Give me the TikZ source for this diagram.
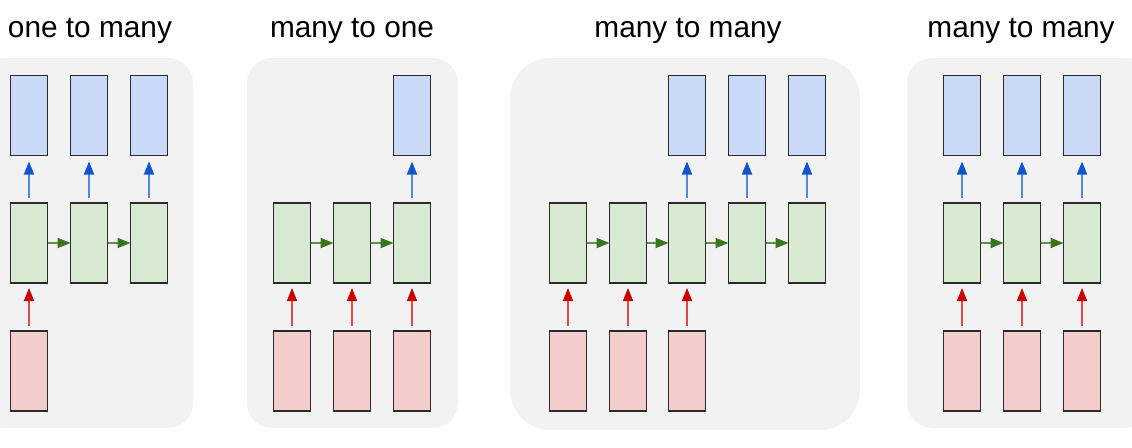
\documentclass[tikz,border=0pt]{standalone}
\usepackage{fontspec}
\setmainfont{Liberation Sans}
\usetikzlibrary{arrows.meta}
\definecolor{bgc}{HTML}{F2F2F2}
\definecolor{boxline}{HTML}{2A2A2A}
\definecolor{outfill}{HTML}{C9DAF8}
\definecolor{hidfill}{HTML}{D9EAD3}
\definecolor{infill}{HTML}{F4CCCC}
\definecolor{barc}{HTML}{1155CC}
\definecolor{garc}{HTML}{38761D}
\definecolor{rarc}{HTML}{CC0000}
\begin{document}
\begin{tikzpicture}[x=1pt,y=-1pt,
  box/.style={draw=boxline,line width=1.9pt,minimum width=37pt,minimum height=80pt,inner sep=0pt,outer sep=0pt,anchor=center},
  outbox/.style={box,fill=outfill},
  hidbox/.style={box,fill=hidfill},
  inbox/.style={box,fill=infill},
  paneltitle/.style={anchor=base,inner sep=0pt,font=\fontsize{29.8}{32}\selectfont,text=black},
  barrow/.style={-{Triangle[length=13pt,width=10pt,color=barc]},line width=1.8pt,draw=barc!70,shorten <=5pt,shorten >=6pt},
  rarrow/.style={-{Triangle[length=13pt,width=10pt,color=rarc]},line width=1.8pt,draw=rarc!70,shorten <=5pt,shorten >=5pt},
  garrow/.style={-{Triangle[length=13pt,width=10pt,color=garc]},line width=1.8pt,draw=garc!80}
]
\useasboundingbox (0,0) rectangle (1132,447);
\clip (0,0) rectangle (1132,447);
% panels
\fill[bgc,rounded corners=25pt] (-20,58) rectangle (193,428);
\fill[bgc,rounded corners=25pt] (247,58) rectangle (458,428);
\fill[bgc,rounded corners=40pt] (510,58) rectangle (860,430);
\fill[bgc,rounded corners=25pt] (907,58) rectangle (1150,428);
% titles
\node[paneltitle] (t1) at (90,37) {one to many};
\node[paneltitle] (t2) at (352,37) {many to one};
\node[paneltitle] (t3) at (688,37) {many to many};
\node[paneltitle] (t4) at (1021,37) {many to many};
% panel 1: one to many
\foreach \i/\x in {1/29,2/89,3/149}{
  \node[outbox] (a-o\i) at (\x,115.5) {};
  \node[hidbox] (a-h\i) at (\x,243) {};
}
\node[inbox] (a-i1) at (29,371) {};
\foreach \i in {1,2,3}{\draw[barrow] (a-h\i.north) -- (a-o\i.south);}
\draw[rarrow] (a-i1.north) -- (a-h1.south);
\draw[garrow] (a-h1.east) -- (a-h2.west);
\draw[garrow] (a-h2.east) -- (a-h3.west);
% panel 2: many to one
\foreach \i/\x in {1/292,2/352,3/412}{
  \node[hidbox] (b-h\i) at (\x,243) {};
  \node[inbox] (b-i\i) at (\x,371) {};
}
\node[outbox] (b-o3) at (412,115.5) {};
\draw[barrow] (b-h3.north) -- (b-o3.south);
\foreach \i in {1,2,3}{\draw[rarrow] (b-i\i.north) -- (b-h\i.south);}
\draw[garrow] (b-h1.east) -- (b-h2.west);
\draw[garrow] (b-h2.east) -- (b-h3.west);
% panel 3: many to many (delayed)
\foreach \i/\x in {1/568,2/628,3/687,4/747,5/807}{
  \node[hidbox] (c-h\i) at (\x,243) {};
}
\foreach \i/\x in {3/687,4/747,5/807}{
  \node[outbox] (c-o\i) at (\x,115.5) {};
  \draw[barrow] (c-h\i.north) -- (c-o\i.south);
}
\foreach \i/\x in {1/568,2/628,3/687}{
  \node[inbox] (c-i\i) at (\x,371) {};
  \draw[rarrow] (c-i\i.north) -- (c-h\i.south);
}
\draw[garrow] (c-h1.east) -- (c-h2.west);
\draw[garrow] (c-h2.east) -- (c-h3.west);
\draw[garrow] (c-h3.east) -- (c-h4.west);
\draw[garrow] (c-h4.east) -- (c-h5.west);
% panel 4: many to many (synced)
\foreach \i/\x in {1/962,2/1022,3/1082}{
  \node[outbox] (d-o\i) at (\x,115.5) {};
  \node[hidbox] (d-h\i) at (\x,243) {};
  \node[inbox] (d-i\i) at (\x,371) {};
}
\foreach \i in {1,2,3}{
  \draw[barrow] (d-h\i.north) -- (d-o\i.south);
  \draw[rarrow] (d-i\i.north) -- (d-h\i.south);
}
\draw[garrow] (d-h1.east) -- (d-h2.west);
\draw[garrow] (d-h2.east) -- (d-h3.west);
\end{tikzpicture}
\end{document}
